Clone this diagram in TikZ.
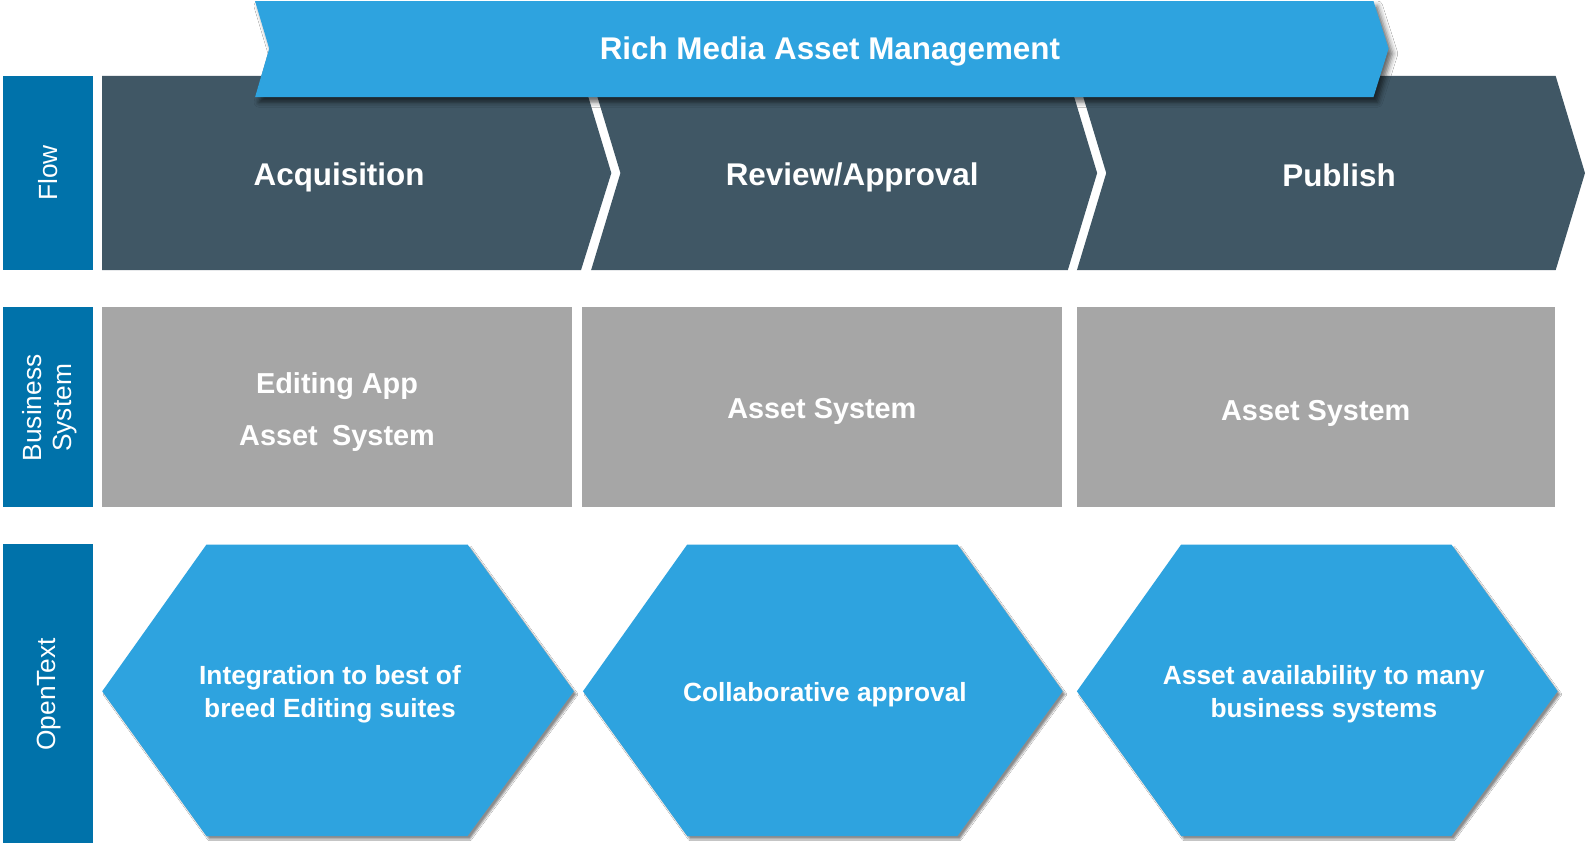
\documentclass[tikz,border=0pt]{standalone}
\usepackage{fontspec}
\setmainfont{Liberation Sans}
\usetikzlibrary{shadows.blur}
\definecolor{bannerblue}{RGB}{46,163,223}
\definecolor{labelblue}{RGB}{0,114,170}
\definecolor{darkslate}{RGB}{64,87,101}
\definecolor{boxgray}{RGB}{166,166,166}
\begin{document}
\begin{tikzpicture}[x=1pt,y=-1pt,
  sidetext/.style={text=white,rotate=90,align=center,inner sep=0pt,font=\fontsize{26}{30}\selectfont},
  flowtext/.style={text=white,inner sep=0pt,font=\fontsize{31}{37}\selectfont\bfseries},
  systext/.style={text=white,inner sep=0pt,font=\fontsize{28.5}{34}\selectfont\bfseries},
  hextext/.style={text=white,inner sep=0pt,align=center,font=\fontsize{26}{32}\selectfont\bfseries},
  hexshadow/.style={blur shadow={shadow xshift=2.5pt,shadow yshift=-3pt,shadow blur radius=1.5pt,shadow opacity=45}},
  bannershadow/.style={blur shadow={shadow xshift=4pt,shadow yshift=-5pt,shadow blur radius=5pt,shadow opacity=60}}]
\fill[white] (0,0) rectangle (1568,833);
\useasboundingbox (0,0) rectangle (1568,833);
% side label boxes
\fill[labelblue] (3,75) rectangle (92,267);
\fill[labelblue] (3,303) rectangle (92,501);
\fill[labelblue] (3,537) rectangle (92,833);
\node[sidetext] (lflow) at (48,171) {Flow};
\node[sidetext] (lbus) at (49,403) {Business\\System};
\node[sidetext] (lot) at (48,686) {OpenText};
% chevrons
\fill[darkslate] (101,75) -- (575,75) -- (604,171) -- (574,267) -- (101,267) -- cycle;
\fill[darkslate] (584,75) -- (1055,75) -- (1084,171) -- (1055,267) -- (584,267) -- (613,171) -- cycle;
\fill[darkslate] (1064,75) -- (1537,75) -- (1566,171) -- (1537,267) -- (1064,267) -- (1093,171) -- cycle;
% banner
\fill[bannerblue,bannershadow] (252,1) -- (1357,1) -- (1372,48) -- (1357,96) -- (252,96) -- (266,48) -- cycle;
\node[flowtext] (banner) at (820,51) {Rich Media Asset Management};
\node[flowtext] (acq) at (335,175) {Acquisition};
\node[flowtext] (rev) at (842,175) {Review/Approval};
\node[flowtext] (pub) at (1323,173) {Publish};
% gray boxes
\fill[boxgray] (101,303) rectangle (565,501);
\fill[boxgray] (575,303) rectangle (1049,501);
\fill[boxgray] (1064,303) rectangle (1536,501);
\node[systext] (edit) at (333,381) {Editing App};
\node[systext] (asys1) at (333,433) {Asset\hspace{0.5em}System};
\node[systext] (asys2) at (812,406) {Asset System};
\node[systext] (asys3) at (1300,408) {Asset System};
% hexagons
\fill[bannerblue,hexshadow] (101,683) -- (204,538) -- (462,538) -- (567,683) -- (462,826) -- (204,826) -- cycle;
\fill[bannerblue,hexshadow] (576,683) -- (679,538) -- (946,538) -- (1050,683) -- (946,826) -- (679,826) -- cycle;
\fill[bannerblue,hexshadow] (1064,683) -- (1167,538) -- (1434,538) -- (1539,683) -- (1434,826) -- (1167,826) -- cycle;
\node[hextext] (h1) at (326,686) {Integration to best of\\breed Editing suites};
\node[hextext] (h2) at (815,686) {Collaborative approval};
\node[hextext] (h3) at (1308,686) {Asset availability to many\\business systems};
\end{tikzpicture}
\end{document}
